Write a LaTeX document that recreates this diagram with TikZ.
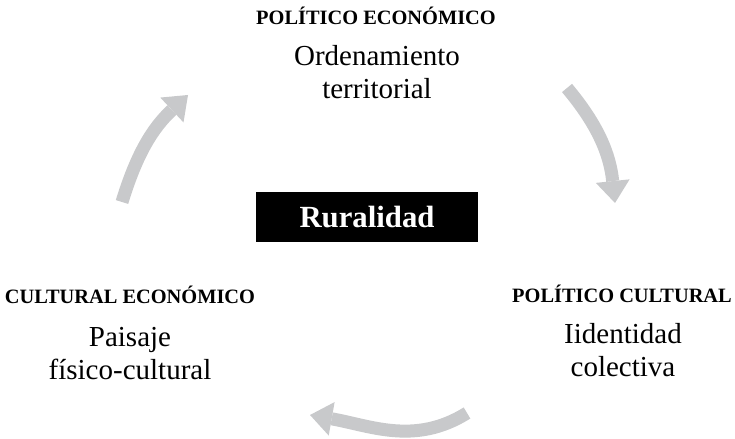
\documentclass[tikz,border=0pt]{standalone}
\usepackage{fontspec}
\setmainfont{Liberation Serif}
\usepackage{xcolor}
\usepackage{tikz}
\usetikzlibrary{positioning,arrows.meta}
\definecolor{flecha}{RGB}{200,201,203}

\begin{document}
\begin{tikzpicture}[
  eje/.style={font=\fontsize{11.6}{13}\selectfont\bfseries,anchor=base,inner sep=0pt},
  tema/.style={font=\fontsize{16.5}{18.8}\selectfont,align=center,anchor=north,inner sep=0pt},
  ciclo/.style={line width=2.6mm,draw=flecha,-{Triangle[width=6.8mm,length=4.4mm,line width=0pt]}}]
  \useasboundingbox (0,0) rectangle (14.7,8.78);
  % ---- centre: the black label ----
  \node[fill=black,text=white,minimum width=4.44cm,minimum height=1cm,
        font=\fontsize{17.5}{18}\selectfont\bfseries] (rur) at (7.34,4.44) {Ruralidad};
  % ---- the three dimensions ----
  \node[eje]  (polecon) at (7.52,8.28) {POLÍTICO ECONÓMICO};
  \node[tema] (orden)   at (7.54,7.88) {Ordenamiento\\territorial};
  \node[eje]  (culeco)  at (2.60,2.70) {CULTURAL ECONÓMICO};
  \node[tema] (paisaje) at (2.60,2.24) {Paisaje\\físico-cultural};
  \node[eje]  (polcul)  at (12.44,2.72) {POLÍTICO CULTURAL};
  \node[tema] (ident)   at (12.46,2.32) {Iidentidad\\colectiva};
  % ---- grey cycle arrows ----
  \coordinate (f1a) at (2.44,4.74);  \coordinate (f1b) at (3.76,6.88);
  \coordinate (f2a) at (11.34,7.02); \coordinate (f2b) at (12.30,4.72);
  \coordinate (f3a) at (9.34,0.52);  \coordinate (f3b) at (6.20,0.48);
  \draw[ciclo] (f1a) to[out=73,in=223] (f1b);
  \draw[ciclo] (f2a) to[out=-50,in=96] (f2b);
  \draw[ciclo] (f3a) to[out=212,in=-10] (f3b);
\end{tikzpicture}
\end{document}
